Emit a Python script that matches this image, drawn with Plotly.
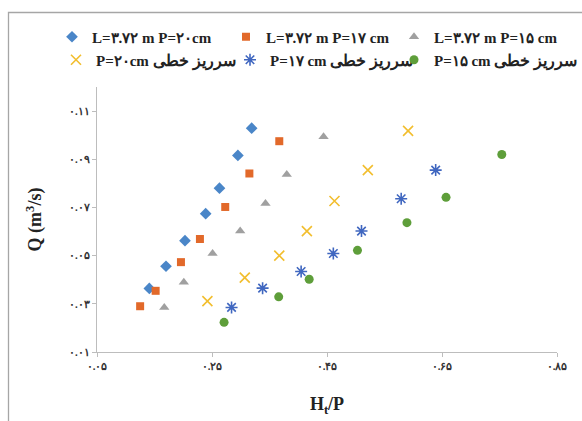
import plotly.graph_objects as go

# ---- data ----
names_exp = ["L=۳.۷۲ m P=۲۰cm", "L=۳.۷۲ m P=۱۷ cm", "L=۳.۷۲ m P=۱۵ cm"]
lin_label = "سرریز خطی"
lin_p = ["P=۲۰cm", "P=۱۷ cm", "P=۱۵ cm"]

x_p20 = [0.141, 0.170, 0.203, 0.239, 0.263, 0.295, 0.319]
y_p20 = [0.0364, 0.0456, 0.0562, 0.0674, 0.0780, 0.0916, 0.1029]
x_p17 = [0.125, 0.152, 0.196, 0.229, 0.273, 0.315, 0.367]
y_p17 = [0.0290, 0.0354, 0.0473, 0.0569, 0.0702, 0.0841, 0.0975]
x_p15 = [0.167, 0.201, 0.251, 0.299, 0.343, 0.380, 0.444]
y_p15 = [0.0285, 0.0390, 0.0509, 0.0602, 0.0716, 0.0837, 0.0994]

x_lin20 = [0.242, 0.307, 0.367, 0.415, 0.463, 0.521, 0.591]
y_lin20 = [0.0311, 0.0409, 0.0500, 0.0602, 0.0727, 0.0855, 0.1018]
x_lin17 = [0.284, 0.338, 0.405, 0.461, 0.510, 0.579, 0.639]
y_lin17 = [0.0285, 0.0365, 0.0434, 0.0509, 0.0602, 0.0736, 0.0855]
x_lin15 = [0.271, 0.366, 0.419, 0.503, 0.589, 0.657, 0.754]
y_lin15 = [0.0223, 0.0329, 0.0402, 0.0522, 0.0637, 0.0742, 0.0920]

x_tickvals = [0.05, 0.25, 0.45, 0.65, 0.85]
x_ticktext = ["۰.۰۵", "۰.۲۵", "۰.۴۵", "۰.۶۵", "۰.۸۵"]
y_tickvals = [0.01, 0.03, 0.05, 0.07, 0.09, 0.11]
y_ticktext = ["۰.۰۱", "۰.۰۳", "۰.۰۵", "۰.۰۷", "۰.۰۹", "۰.۱۱"]

FONT = "Liberation Serif, DejaVu Serif, serif"
W, H = 582, 421

names_lin = [p + ' <span style="font-size:16px">' + lin_label + "</span>" for p in lin_p]

fig = go.Figure()

def add(x, y, name, symbol, color, size, legend, line_w=0, line_color=None):
    fig.add_trace(go.Scatter(
        x=x, y=y, mode="markers", name=name, legend=legend,
        marker=dict(symbol=symbol, color=color, size=size,
                    line=dict(width=line_w, color=line_color or color)),
    ))

add(x_p20, y_p20, names_exp[0], "diamond", "#4A86C8", 9, "legend")
add(x_p17, y_p17, names_exp[1], "square", "#E2692A", 8, "legend2")
add(x_p15, y_p15, names_exp[2], "triangle-up", "#A0A0A0", 9, "legend3")
add(x_lin20, y_lin20, names_lin[0], "x-thin-open", "#F2BE2E", 10, "legend4", 1.6, "#F2BE2E")
add(x_lin17, y_lin17, names_lin[1], "asterisk-open", "#4067C0", 10, "legend5", 1.6, "#4067C0")
add(x_lin15, y_lin15, names_lin[2], "circle", "#5E9E3A", 9, "legend6")

axis_common = dict(
    showgrid=False, zeroline=False, showline=True, linecolor="#BDBDBD", linewidth=1,
    ticks="outside", tickcolor="#BDBDBD", ticklen=4,
    tickfont=dict(family=FONT, size=11, color="#333333", weight="bold"),
)

def leg(xm, ym):
    # xm, ym: pixel position of the legend marker
    return dict(
        orientation="h", xref="container", yref="container",
        xanchor="left", yanchor="middle",
        x=(xm - 24) / W, y=1 - ym / H,
        font=dict(family=FONT, size=15, color="#222222", weight="bold"),
        bgcolor="rgba(0,0,0,0)", itemclick=False, itemdoubleclick=False,
    )

fig.update_layout(
    width=W, height=H,
    margin=dict(l=0, r=0, t=0, b=0, autoexpand=False),
    paper_bgcolor="white", plot_bgcolor="rgba(0,0,0,0)",
    showlegend=True,
    xaxis=dict(domain=[97 / W, 557 / W], range=[0.05, 0.85],
               tickvals=x_tickvals, ticktext=x_ticktext,
               title=dict(text="H<sub>t</sub>/P", standoff=26,
                          font=dict(family=FONT, size=18, color="#222222", weight="bold")),
               **axis_common),
    yaxis=dict(domain=[(H - 352) / H, (H - 87) / H], range=[0.01, 0.12],
               tickvals=y_tickvals, ticktext=y_ticktext,
               title=dict(text="Q (m<sup>3</sup>/s)", standoff=22,
                          font=dict(family=FONT, size=18, color="#222222", weight="bold")),
               **axis_common),
    legend=leg(76, 37), legend2=leg(250, 37), legend3=leg(418, 37),
    legend4=leg(80, 60), legend5=leg(254, 60), legend6=leg(418, 60),
    shapes=[
        dict(type="rect", xref="paper", yref="paper",
             x0=8.5 / W, x1=1.2, y0=-0.2, y1=1 - 12.5 / H,
             line=dict(color="#A6A6A6", width=1.3), fillcolor="rgba(0,0,0,0)", layer="above"),
    ],
)

fig.write_html("out.html")
